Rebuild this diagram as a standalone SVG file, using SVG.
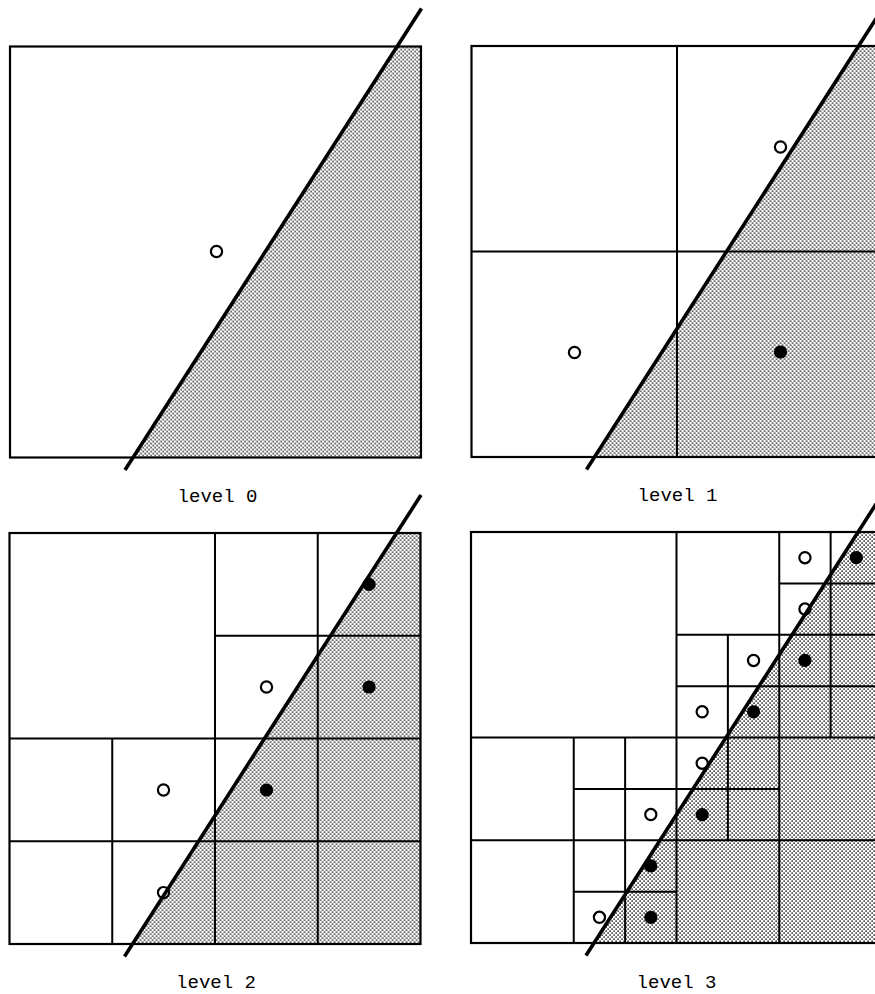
<svg xmlns="http://www.w3.org/2000/svg" xmlns:xlink="http://www.w3.org/1999/xlink" width="875" height="994" viewBox="0 0 875 994">
<defs>
<pattern id="dots" width="4" height="4" patternUnits="userSpaceOnUse">
<rect x="0.4" y="0.4" width="1.4" height="1.4" fill="#000"/>
<rect x="2.4" y="2.4" width="1.4" height="1.4" fill="#000"/>
</pattern>
</defs>
<style>
.shade{fill:url(#dots);stroke:none}
.border{fill:none;stroke:#000;stroke-width:2.2}
.grid{stroke:#000;stroke-width:2;fill:none}
.diag{stroke:#000;stroke-width:3.6;stroke-linecap:butt}
.open{fill:#fff;stroke:#000;stroke-width:2.2}
.full{fill:#000;stroke:none}
.lbl{font-family:"Liberation Mono","Courier New",monospace;font-size:19px;fill:#000;text-anchor:middle}
</style>
<rect width="875" height="994" fill="#fff"/>

<g id="level0" transform="translate(10,46.5)">
<polygon class="shade" points="387.1,0 411,0 411,411 123,411"/>
<rect class="border" x="0" y="0" width="411" height="411"/>
<circle class="open" cx="206.5" cy="205" r="5.6"/>
<line class="diag" x1="411.5" y1="-38" x2="115" y2="423.5"/>
</g>

<g id="level1" transform="translate(471.5,46)">
<polygon class="shade" points="387.1,0 411,0 411,411 123,411"/>
<g class="grid">
<line x1="205.5" y1="0" x2="205.5" y2="411"/>
<line x1="0" y1="205.5" x2="411" y2="205.5"/>
</g>
<rect class="border" x="0" y="0" width="411" height="411"/>
<circle class="open" cx="309" cy="101" r="5.6"/>
<circle class="open" cx="103" cy="306.5" r="5.6"/>
<circle class="full" cx="309" cy="306" r="6.6"/>
<line class="diag" x1="411.5" y1="-38" x2="115" y2="423.5"/>
</g>

<g id="level2" transform="translate(9.5,533)">
<polygon class="shade" points="387.1,0 411,0 411,411 123,411"/>
<g class="grid">
<line x1="102.75" y1="205.5" x2="102.75" y2="411"/>
<line x1="205.5" y1="0" x2="205.5" y2="411"/>
<line x1="308.25" y1="0" x2="308.25" y2="411"/>
<line x1="205.5" y1="102.75" x2="411" y2="102.75"/>
<line x1="0" y1="205.5" x2="411" y2="205.5"/>
<line x1="0" y1="308.25" x2="411" y2="308.25"/>
</g>
<rect class="border" x="0" y="0" width="411" height="411"/>
<circle class="full" cx="359.6" cy="51.4" r="6.6"/>
<circle class="open" cx="257" cy="154" r="5.6"/>
<circle class="full" cx="359.6" cy="154" r="6.6"/>
<circle class="open" cx="154" cy="257" r="5.6"/>
<circle class="full" cx="257" cy="257" r="6.6"/>
<circle class="open" cx="154" cy="359.6" r="5.6"/>
<line class="diag" x1="411.5" y1="-38" x2="115" y2="423.5"/>
</g>

<g id="level3" transform="translate(471,532)">
<polygon class="shade" points="387.1,0 411,0 411,411 123,411"/>
<g class="grid">
<line x1="205.5" y1="0" x2="205.5" y2="411"/>
<line x1="0" y1="205.5" x2="411" y2="205.5"/>
<line x1="308.25" y1="0" x2="308.25" y2="411"/>
<line x1="0" y1="308.25" x2="411" y2="308.25"/>
<line x1="102.75" y1="205.5" x2="102.75" y2="411"/>
<line x1="154.125" y1="205.5" x2="154.125" y2="411"/>
<line x1="256.875" y1="102.75" x2="256.875" y2="308.25"/>
<line x1="359.625" y1="0" x2="359.625" y2="205.5"/>
<line x1="205.5" y1="102.75" x2="411" y2="102.75"/>
<line x1="205.5" y1="154.125" x2="411" y2="154.125"/>
<line x1="308.25" y1="51.375" x2="411" y2="51.375"/>
<line x1="102.75" y1="256.875" x2="308.25" y2="256.875"/>
<line x1="102.75" y1="359.625" x2="205.5" y2="359.625"/>
</g>
<rect class="border" x="0" y="0" width="411" height="411"/>
<circle class="open" cx="333.94" cy="25.69" r="5.6"/>
<circle class="full" cx="385.31" cy="25.69" r="6.6"/>
<circle class="open" cx="333.94" cy="77.06" r="5.6"/>
<circle class="open" cx="282.56" cy="128.44" r="5.6"/>
<circle class="full" cx="333.94" cy="128.44" r="6.6"/>
<circle class="open" cx="231.19" cy="179.81" r="5.6"/>
<circle class="full" cx="282.56" cy="179.81" r="6.6"/>
<circle class="open" cx="231.19" cy="231.19" r="5.6"/>
<circle class="open" cx="179.81" cy="282.56" r="5.6"/>
<circle class="full" cx="231.19" cy="282.56" r="6.6"/>
<circle class="full" cx="179.81" cy="333.94" r="6.6"/>
<circle class="open" cx="128.44" cy="385.31" r="5.6"/>
<circle class="full" cx="179.81" cy="385.31" r="6.6"/>
<line class="diag" x1="411.5" y1="-38" x2="115" y2="423.5"/>
</g>

<g id="labels">
<text class="lbl" x="217.5" y="501.5">level 0</text>
<text class="lbl" x="677.5" y="501">level 1</text>
<text class="lbl" x="216" y="988">level 2</text>
<text class="lbl" x="676.5" y="988">level 3</text>
</g>
</svg>
